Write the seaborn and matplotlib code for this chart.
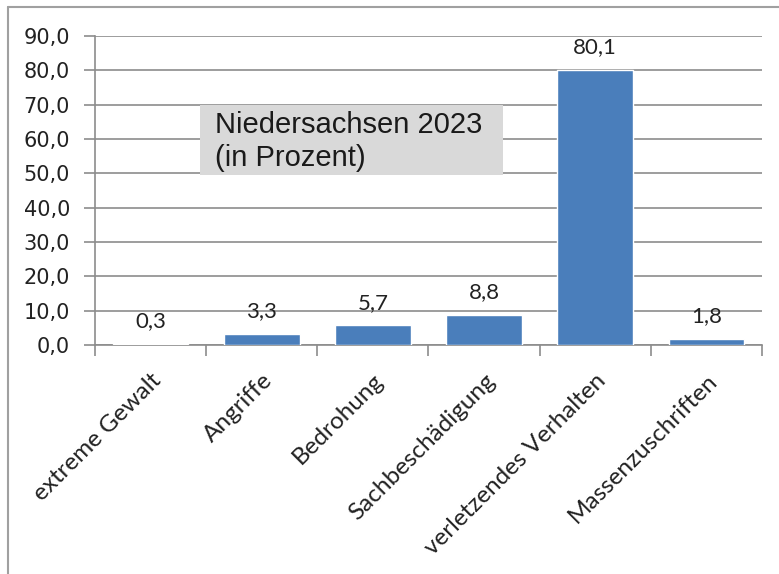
import matplotlib
matplotlib.use("Agg")
import matplotlib.pyplot as plt
import seaborn as sns
import pandas as pd
from matplotlib.patches import Rectangle
from matplotlib.lines import Line2D

categories = ["extreme Gewalt", "Angriffe", "Bedrohung", "Sachbeschädigung",
              "verletzendes Verhalten", "Massenzuschriften"]
values = [0.3, 3.3, 5.7, 8.8, 80.1, 1.8]
value_labels = ["0,3", "3,3", "5,7", "8,8", "80,1", "1,8"]
yticks = [0, 10, 20, 30, 40, 50, 60, 70, 80, 90]
ytick_labels = ["0,0", "10,0", "20,0", "30,0", "40,0", "50,0", "60,0", "70,0", "80,0", "90,0"]
title_text = "Niedersachsen 2023\n(in Prozent)"

sns.set_style("white")
plt.rcParams['font.family'] = ['Lato', 'DejaVu Sans']

W, H = 779, 574
fig = plt.figure(figsize=(W / 100, H / 100), dpi=100)
ax = fig.add_axes([95 / W, 1 - 345 / H, (762 - 95) / W, (345 - 36) / H])

df = pd.DataFrame({"cat": categories, "val": values})
sns.barplot(data=df, x="cat", y="val", color="#4a7ebb", saturation=1, width=0.68, ax=ax, zorder=3)

ax.set_xlim(-0.5, len(categories) - 0.5)
ax.set_ylim(0, 90)
ax.set_yticks(yticks)
ax.set_yticklabels(ytick_labels, fontsize=15, color="#222222", family="DejaVu Sans")
ax.yaxis.grid(True, color="#8c8c8c", linewidth=1.2, zorder=0)
ax.set_axisbelow(True)
ax.tick_params(axis="y", direction="out", length=8, width=1.2, color="#8c8c8c", left=True, pad=10)

ax.set_xticks(range(len(categories)))
ax.set_xticklabels(categories, rotation=45, ha="right", rotation_mode="anchor",
                   fontsize=17.5, color="#222222")
ax.tick_params(axis="x", which="major", length=0, pad=18)
ax.set_xticks([i - 0.5 for i in range(len(categories) + 1)], minor=True)
ax.tick_params(axis="x", which="minor", direction="out", length=8, width=1.2, color="#8c8c8c", bottom=True)
ax.set_xlabel("")
ax.set_ylabel("")

for s in ["top", "right"]:
    ax.spines[s].set_visible(False)
for s in ["left", "bottom"]:
    ax.spines[s].set_color("#8c8c8c")
    ax.spines[s].set_linewidth(1.2)

for i, (v, lab) in enumerate(zip(values, value_labels)):
    ax.annotate(lab, (i, v), xytext=(0, 9), textcoords="offset points",
                ha="center", va="bottom", fontsize=16, color="#222222", zorder=5)

# title box
fig.patches.append(Rectangle((200 / W, 1 - 175 / H), (503 - 200) / W, (175 - 105) / H,
                             transform=fig.transFigure, facecolor="#d9d9d9",
                             edgecolor="none", zorder=4))
fig.text(215 / W, 1 - 111 / H, title_text, ha="left", va="top",
         fontsize=21, family="Liberation Sans", color="#1a1a1a", linespacing=1.22, zorder=6)

# outer frame
fig.lines.append(Line2D([8 / W, 8 / W], [0, 1 - 7 / H], transform=fig.transFigure,
                        color="#a0a0a0", linewidth=1.5))
fig.lines.append(Line2D([8 / W, 1], [1 - 7 / H, 1 - 7 / H], transform=fig.transFigure,
                        color="#a0a0a0", linewidth=1.5))

fig.savefig("out.png", dpi=100)
